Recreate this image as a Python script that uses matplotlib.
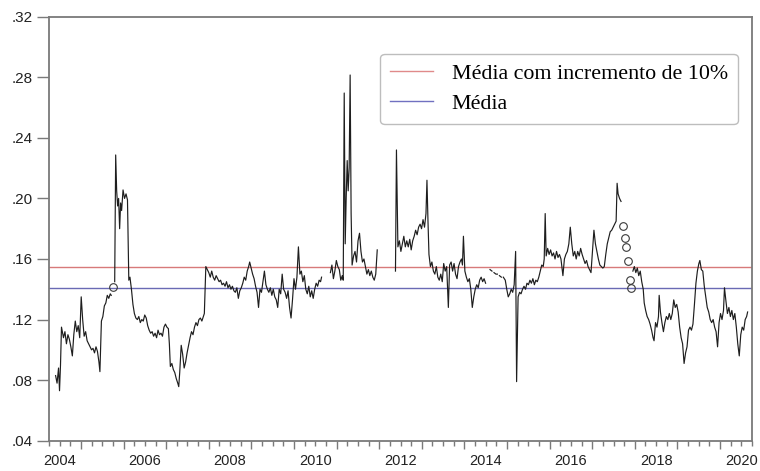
import numpy as np
import matplotlib
matplotlib.use("Agg")
import matplotlib.pyplot as plt
from matplotlib.lines import Line2D

nan = np.nan

# Weekly series (decimal year, value); NaN marks missing observations
dates = [
    2004.405, 2004.439, 2004.474, 2004.497, 2004.520, 2004.543, 2004.590, 2004.624, 2004.659, 2004.694,
    2004.728, 2004.763, 2004.798, 2004.832, 2004.867, 2004.902, 2004.936, 2004.971, 2005.006, 2005.040,
    2005.075, 2005.110, 2005.145, 2005.179, 2005.214, 2005.249, 2005.283, 2005.318, 2005.353, 2005.387,
    2005.422, 2005.445, 2005.480, 2005.514, 2005.549, 2005.584, 2005.618, 2005.653, 2005.688, 2005.711,
    2005.735, 2005.757, 2005.775,
    2005.792, 2005.815, 2005.838, 2005.861, 2005.884, 2005.908, 2005.931, 2005.954, 2005.988, 2006.023,
    2006.058, 2006.092, 2006.123, 2006.150, 2006.185, 2006.220, 2006.254, 2006.289, 2006.324, 2006.358,
    2006.393, 2006.428, 2006.462, 2006.497, 2006.532, 2006.566, 2006.601, 2006.636, 2006.671, 2006.705,
    2006.740, 2006.775, 2006.809, 2006.844, 2006.879, 2006.913, 2006.948, 2006.983, 2007.017, 2007.052,
    2007.075, 2007.098, 2007.133, 2007.168, 2007.202, 2007.237, 2007.272, 2007.295, 2007.318, 2007.353,
    2007.387, 2007.422, 2007.457, 2007.491, 2007.526, 2007.561, 2007.595, 2007.630, 2007.665, 2007.699,
    2007.734, 2007.769, 2007.803, 2007.838, 2007.873, 2007.896, 2007.931, 2007.965, 2008.000, 2008.035,
    2008.069, 2008.104, 2008.139, 2008.173, 2008.208, 2008.243, 2008.277, 2008.312, 2008.347, 2008.382,
    2008.416, 2008.451, 2008.486, 2008.520, 2008.555, 2008.590, 2008.624, 2008.659, 2008.694, 2008.728,
    2008.763, 2008.798, 2008.832, 2008.867, 2008.902, 2008.936, 2008.960, 2008.994, 2009.029, 2009.064,
    2009.098, 2009.133, 2009.168, 2009.202, 2009.237, 2009.272, 2009.306, 2009.341, 2009.376, 2009.410,
    2009.445, 2009.480, 2009.514, 2009.549, 2009.584, 2009.618, 2009.653, 2009.688, 2009.723, 2009.757,
    2009.792, 2009.827, 2009.861, 2009.896, 2009.931, 2009.965, 2010.000, 2010.035, 2010.069, 2010.104,
    2010.139, 2010.173, 2010.208, 2010.243, 2010.277, 2010.312, 2010.347, 2010.382, 2010.416, 2010.451,
    2010.486, 2010.520, 2010.555, 2010.590, 2010.624, 2010.647,
    2010.700,
    2010.855, 2010.890, 2010.925, 2010.959, 2010.994, 2011.029, 2011.064, 2011.098, 2011.133, 2011.156,
    2011.179, 2011.202, 2011.225, 2011.249, 2011.272, 2011.295, 2011.318, 2011.341, 2011.364, 2011.399,
    2011.433, 2011.468, 2011.503, 2011.538, 2011.572, 2011.607, 2011.642, 2011.676, 2011.711, 2011.746,
    2011.780, 2011.815, 2011.850, 2011.884, 2011.919, 2011.954,
    2012.000,
    2012.382, 2012.405, 2012.439, 2012.474, 2012.509, 2012.543, 2012.578, 2012.613, 2012.647, 2012.682,
    2012.717, 2012.751, 2012.786, 2012.821, 2012.855, 2012.890, 2012.925, 2012.960, 2012.994, 2013.029,
    2013.064, 2013.098, 2013.121, 2013.145, 2013.168, 2013.202, 2013.237, 2013.272, 2013.306, 2013.341,
    2013.376, 2013.410, 2013.445, 2013.480, 2013.514, 2013.549, 2013.584, 2013.623, 2013.653, 2013.688,
    2013.723, 2013.757, 2013.792, 2013.827, 2013.861, 2013.896, 2013.931, 2013.954, 2013.977, 2014.011,
    2014.046, 2014.081, 2014.116, 2014.150, 2014.185, 2014.220, 2014.254, 2014.289, 2014.324, 2014.358,
    2014.393, 2014.428, 2014.462, 2014.497,
    2014.530,
    2014.601, 2014.647, 2014.670, 2014.694, 2014.740, 2014.774, 2014.800, 2014.821, 2014.867, 2014.890,
    2014.913, 2014.959, 2014.994, 2015.029, 2015.064, 2015.098, 2015.133, 2015.168, 2015.202, 2015.225,
    2015.260, 2015.295, 2015.329, 2015.364, 2015.399, 2015.434, 2015.468, 2015.503, 2015.538, 2015.572,
    2015.607, 2015.642, 2015.676, 2015.711, 2015.746, 2015.780, 2015.815, 2015.850, 2015.873, 2015.896,
    2015.919, 2015.954, 2015.988, 2016.023, 2016.058, 2016.092, 2016.127, 2016.162, 2016.197, 2016.231,
    2016.266, 2016.312, 2016.347, 2016.381, 2016.416, 2016.451, 2016.485, 2016.520, 2016.555, 2016.590,
    2016.624, 2016.659, 2016.694, 2016.728, 2016.763, 2016.798, 2016.832, 2016.867, 2016.902, 2016.936,
    2016.971, 2017.006, 2017.040, 2017.075, 2017.110, 2017.144, 2017.179, 2017.214, 2017.249, 2017.283,
    2017.318, 2017.353, 2017.387, 2017.422, 2017.457, 2017.491, 2017.526, 2017.561, 2017.584, 2017.607,
    2017.641, 2017.676,
    2017.700, 2017.722, 2017.741, 2017.761, 2017.780, 2017.799, 2017.818, 2017.838, 2017.857, 2017.876,
    2017.895, 2017.914, 2017.933,
    2017.954, 2017.988, 2018.023, 2018.058, 2018.092, 2018.127, 2018.162, 2018.197, 2018.220, 2018.254,
    2018.289, 2018.324, 2018.358, 2018.393, 2018.428, 2018.451, 2018.486, 2018.520, 2018.555, 2018.571,
    2018.601, 2018.636, 2018.671, 2018.705, 2018.740, 2018.775, 2018.809, 2018.844, 2018.879, 2018.913,
    2018.948, 2018.983, 2019.017, 2019.052, 2019.087, 2019.121, 2019.156, 2019.191, 2019.225, 2019.260,
    2019.295, 2019.329, 2019.364, 2019.399, 2019.434, 2019.468, 2019.503, 2019.526, 2019.561, 2019.595,
    2019.630, 2019.665, 2019.699, 2019.734, 2019.769, 2019.803, 2019.838, 2019.873, 2019.907, 2019.942,
    2019.977, 2020.011, 2020.046, 2020.081, 2020.104, 2020.139, 2020.173, 2020.208, 2020.243, 2020.277,
    2020.312, 2020.347, 2020.382, 2020.416, 2020.451, 2020.486, 2020.520, 2020.555, 2020.590, 2020.624,
    2020.647,
]

values = [
    0.083, 0.078, 0.088, 0.073, 0.090, 0.115, 0.108, 0.112, 0.104, 0.110,
    0.107, 0.102, 0.096, 0.110, 0.119, 0.112, 0.116, 0.108, 0.135, 0.120,
    0.109, 0.112, 0.106, 0.104, 0.102, 0.100, 0.101, 0.098, 0.102, 0.099,
    0.092, 0.0856, 0.119, 0.122, 0.129, 0.131, 0.136, 0.134, 0.137, 0.136,
    nan, 0.1415, nan,
    0.145, 0.2287, 0.205, 0.195, 0.200, 0.180, 0.197, 0.192, 0.2056, 0.200,
    0.203, 0.199, 0.146, 0.148, 0.140, 0.130, 0.124, 0.121, 0.120, 0.122,
    0.118, 0.120, 0.119, 0.123, 0.121, 0.116, 0.113, 0.111, 0.112, 0.109,
    0.111, 0.108, 0.113, 0.110, 0.111, 0.109, 0.115, 0.117, 0.115, 0.114,
    0.104, 0.089, 0.091, 0.087, 0.085, 0.081, 0.078, 0.0757, 0.085, 0.103,
    0.097, 0.088, 0.092, 0.098, 0.103, 0.108, 0.112, 0.110, 0.115, 0.118,
    0.116, 0.120, 0.121, 0.119, 0.122, 0.124, 0.155, 0.153, 0.151, 0.148,
    0.152, 0.148, 0.146, 0.149, 0.147, 0.145, 0.146, 0.143, 0.144, 0.142,
    0.145, 0.141, 0.143, 0.140, 0.142, 0.139, 0.138, 0.141, 0.134, 0.139,
    0.141, 0.144, 0.148, 0.146, 0.152, 0.155, 0.158, 0.154, 0.150, 0.147,
    0.142, 0.138, 0.128, 0.140, 0.138, 0.145, 0.152, 0.143, 0.140, 0.138,
    0.141, 0.136, 0.140, 0.135, 0.133, 0.128, 0.140, 0.137, 0.150, 0.140,
    0.138, 0.134, 0.139, 0.128, 0.121, 0.133, 0.147, 0.140, 0.148, 0.168,
    0.150, 0.152, 0.145, 0.149, 0.140, 0.137, 0.142, 0.135, 0.139, 0.134,
    0.140, 0.144, 0.142, 0.146, 0.145, 0.148,
    nan,
    0.151, 0.156, 0.147, 0.152, 0.159, 0.155, 0.153, 0.146, 0.149, 0.146,
    0.2696, 0.170, 0.200, 0.225, 0.205, 0.220, 0.2815, 0.190, 0.156, 0.162,
    0.165, 0.158, 0.172, 0.177, 0.165, 0.158, 0.160, 0.155, 0.150, 0.153,
    0.149, 0.152, 0.148, 0.146, 0.150, 0.166,
    nan,
    0.152, 0.232, 0.168, 0.172, 0.165, 0.170, 0.175, 0.168, 0.172, 0.168,
    0.173, 0.166, 0.172, 0.175, 0.179, 0.176, 0.181, 0.183, 0.180, 0.186,
    0.181, 0.190, 0.212, 0.185, 0.163, 0.155, 0.158, 0.152, 0.150, 0.155,
    0.148, 0.146, 0.150, 0.145, 0.157, 0.152, 0.155, 0.128, 0.156, 0.158,
    0.152, 0.157, 0.150, 0.147, 0.155, 0.158, 0.160, 0.156, 0.175, 0.152,
    0.148, 0.145, 0.147, 0.140, 0.128, 0.135, 0.140, 0.143, 0.141, 0.146,
    0.148, 0.145, 0.147, 0.144,
    nan,
    0.153, 0.152, nan, 0.151, 0.150, 0.150, nan, 0.149, 0.148, nan,
    0.148, 0.146, 0.140, 0.135, 0.137, 0.140, 0.138, 0.143, 0.165, 0.079,
    0.135, 0.138, 0.137, 0.140, 0.142, 0.140, 0.144, 0.143, 0.146, 0.144,
    0.147, 0.143, 0.146, 0.145, 0.148, 0.152, 0.156, 0.155, 0.160, 0.190,
    0.162, 0.167, 0.163, 0.166, 0.162, 0.164, 0.160, 0.165, 0.161, 0.163,
    0.160, 0.149, 0.160, 0.163, 0.165, 0.170, 0.181, 0.170, 0.162, 0.165,
    0.160, 0.165, 0.162, 0.167, 0.163, 0.160, 0.157, 0.159, 0.155, 0.153,
    0.151, 0.165, 0.179, 0.170, 0.165, 0.160, 0.156, 0.155, 0.154, 0.155,
    0.163, 0.170, 0.174, 0.178, 0.179, 0.181, 0.183, 0.185, 0.210, 0.203,
    0.200, 0.198,
    nan, 0.182, nan, 0.174, nan, 0.168, nan, 0.159, nan, 0.146,
    nan, 0.141, nan,
    0.152, 0.155, 0.151, 0.154, 0.149, 0.152, 0.145, 0.140, 0.131, 0.126,
    0.122, 0.120, 0.117, 0.113, 0.108, 0.106, 0.118, 0.115, 0.122, 0.136,
    0.125, 0.118, 0.112, 0.118, 0.122, 0.120, 0.124, 0.120, 0.124, 0.133,
    0.128, 0.130, 0.125, 0.115, 0.108, 0.104, 0.091, 0.098, 0.102, 0.113,
    0.115, 0.113, 0.117, 0.130, 0.144, 0.152, 0.157, 0.159, 0.153, 0.152,
    0.142, 0.135, 0.128, 0.125, 0.120, 0.118, 0.120, 0.115, 0.112, 0.102,
    0.118, 0.124, 0.120, 0.126, 0.141, 0.132, 0.124, 0.128, 0.122, 0.126,
    0.120, 0.124, 0.115, 0.104, 0.096, 0.110, 0.115, 0.113, 0.120, 0.122,
    0.125,
]

media = 0.1408
media_incr = media * 1.10

label_incr = "Média com incremento de 10%"
label_media = "Média"
year_labels = [2004, 2006, 2008, 2010, 2012, 2014, 2016, 2018, 2020]
y_ticks = [0.04, 0.08, 0.12, 0.16, 0.20, 0.24, 0.28, 0.32]

x = np.array(dates)
y = np.array(values, dtype=float)

fig = plt.figure(figsize=(7.6, 4.71), dpi=100)
ax = fig.add_axes([49 / 760, 30.3 / 471, 703 / 760, 424 / 471])

frame_col = "#7a7a7a"
ax.axhline(media_incr, color="#d77a7a", lw=1.0, zorder=2)
ax.axhline(media, color="#6a6ab4", lw=1.0, zorder=2)
ax.plot(x, y, color="#1e1e1e", lw=0.85, zorder=3)

# observations with no neighbours are drawn as open circles
finite = np.isfinite(y)
prev_ok = np.r_[False, finite[:-1]]
next_ok = np.r_[finite[1:], False]
iso = finite & ~prev_ok & ~next_ok
ax.plot(x[iso], y[iso], linestyle="none", marker="o", ms=5.5,
        mfc="none", mec="#3a3a3a", mew=0.8, zorder=4)

ax.set_xlim(2004.43, 2020.682)
ax.set_ylim(0.04, 0.32)

ax.set_yticks(y_ticks)
ax.set_yticklabels([f"{v:.2f}".lstrip("0") for v in y_ticks],
                   family="Liberation Sans", fontsize=11, color="#222222")
ax.set_xticks(np.arange(2005, 2021))
ax.set_xticks(np.arange(2004.25, 2020.76, 0.25), minor=True)
ax.set_xticklabels([])
ax.tick_params(axis="y", direction="out", length=9, width=1.0, color=frame_col, pad=3)
ax.tick_params(axis="x", which="major", direction="out", length=6, width=1.0, color=frame_col)
ax.tick_params(axis="x", which="minor", direction="out", length=3.5, width=1.0, color=frame_col)
tr = ax.get_xaxis_transform()
for yr in year_labels:
    ax.text(yr + 0.5, -0.032, str(yr), transform=tr, ha="center", va="top",
            family="Liberation Sans", fontsize=10.5, color="#222222")

for s in ax.spines.values():
    s.set_color(frame_col)
    s.set_linewidth(1.3)

handles = [Line2D([], [], color="#e08a8a", lw=1.0),
           Line2D([], [], color="#7070c0", lw=1.0)]
leg = ax.legend(handles, [label_incr, label_media], loc="upper left",
                bbox_to_anchor=(0.471, 0.913), borderaxespad=0,
                prop={"family": "Liberation Serif", "size": 15.8},
                frameon=True, fancybox=True, framealpha=1, edgecolor="#bdbdbd",
                handlelength=1.95, handletextpad=0.86, borderpad=0.45, labelspacing=0.45)
leg.get_frame().set_linewidth(1.0)

fig.savefig("out.png", dpi=100)
